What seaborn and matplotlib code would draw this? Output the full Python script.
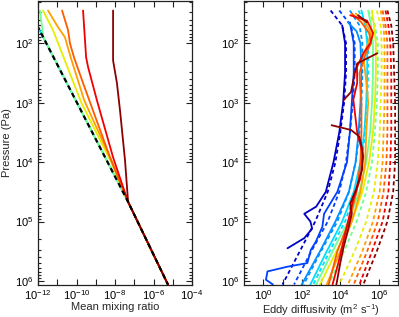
import numpy as np
import pandas as pd
import matplotlib
matplotlib.use("Agg")
import matplotlib.pyplot as plt
import seaborn as sns
from matplotlib.ticker import LogLocator, NullFormatter, NullLocator

# ---- data (values are powers of ten) ----

# left panel: mean mixing ratio vs pressure
p_black = [1.45, 1.73, 4.67, 6.06]
x_black = [-12.45, -12.0, -7.32, -5.25]

p_cyan = [1.45, 1.73, 4.67, 6.06]
x_cyan = [-12.0, -12.0, -7.32, -5.25]

p_green = [1.45, 1.9, 4.67, 6.06]
x_green = [-11.9, -11.72, -7.32, -5.25]

p_yellow = [1.45, 1.78, 3.0, 4.0, 4.67, 6.06]
x_yellow = [-11.74, -11.22, -9.75, -8.2, -7.32, -5.25]

p_orange = [1.45, 1.73, 1.9, 2.24, 2.96, 4.0, 4.67, 6.06]
x_orange = [-11.48, -10.96, -10.6, -10.3, -9.6, -8.15, -7.32, -5.25]

p_orangered = [1.45, 1.78, 2.0, 2.24, 2.67, 3.92, 4.67, 6.06]
x_orangered = [-10.75, -10.44, -10.34, -10.13, -9.66, -8.26, -7.32, -5.25]

p_red = [1.45, 2.24, 2.4, 2.96, 3.92, 4.67, 6.06]
x_red = [-9.66, -9.5, -9.4, -8.94, -8.1, -7.32, -5.25]

p_darkred = [1.45, 2.29, 2.67, 3.13, 3.97, 4.67, 6.06]
x_darkred = [-8.1, -8.1, -7.9, -7.74, -7.48, -7.32, -5.25]

# right panel: eddy diffusivity vs pressure
p_grid = [1.45, 1.7, 2.0, 2.5, 3.0, 3.5, 4.0, 4.5, 5.0, 5.5, 6.06]

kd_darkblue = [3.5, 4.1, 4.3, 4.3, 4.2, 4.0, 3.75, 3.35, 2.7, 1.9, 1.0]
kd_blue = [3.95, 4.55, 4.75, 4.75, 4.65, 4.5, 4.3, 3.95, 3.35, 2.5, 1.6]
kd_azure = [4.5, 5.0, 5.15, 5.15, 5.1, 5.0, 4.8, 4.45, 3.85, 3.0, 2.1]
kd_cyan = [4.95, 5.3, 5.45, 5.45, 5.4, 5.3, 5.1, 4.8, 4.25, 3.45, 2.6]
kd_green = [5.45, 5.8, 5.95, 5.95, 5.9, 5.8, 5.65, 5.35, 4.85, 4.2, 3.4]
kd_yellow = [5.9, 6.1, 6.15, 6.15, 6.1, 6.05, 5.95, 5.75, 5.35, 4.75, 3.95]
kd_orange = [6.1, 6.25, 6.3, 6.3, 6.3, 6.25, 6.2, 6.05, 5.7, 5.15, 4.4]
kd_orangered = [6.2, 6.35, 6.45, 6.45, 6.45, 6.45, 6.4, 6.25, 5.95, 5.4, 4.7]
kd_red = [6.35, 6.5, 6.6, 6.65, 6.65, 6.65, 6.6, 6.5, 6.2, 5.65, 5.0]
kd_darkred = [6.45, 6.65, 6.75, 6.8, 6.85, 6.85, 6.85, 6.75, 6.45, 5.9, 5.2]

ps_darkblue = [1.7, 2.0, 2.5, 3.0, 3.5, 4.0, 4.5, 4.75, 4.87, 5.0, 5.12, 5.28, 5.45]
ks_darkblue = [4.1, 4.25, 4.25, 4.15, 3.95, 3.65, 3.25, 2.75, 2.13, 2.45, 2.54, 2.13, 1.26]

ps_blue = [1.65, 2.0, 2.5, 3.0, 3.5, 4.0, 4.5, 4.87, 5.09, 5.34, 5.48, 5.7, 5.76, 5.84, 5.98, 6.06]
ks_blue = [4.5, 4.7, 4.7, 4.6, 4.5, 4.35, 3.85, 3.16, 3.07, 2.73, 2.47, 2.29, 1.26, 0.22, 0.14, 0.5]

ps_azure = [1.65, 1.8, 2.0, 2.5, 3.0, 3.5, 4.0, 4.5, 5.0, 5.5, 6.06]
ks_azure = [4.4, 4.85, 5.05, 5.1, 5.05, 4.95, 4.8, 4.45, 3.75, 2.95, 2.0]

ks_cyan = [5.1, 5.3, 5.4, 5.4, 5.35, 5.25, 5.05, 4.7, 4.1, 3.3, 2.45]
ks_green = [5.45, 5.6, 5.7, 5.7, 5.65, 5.55, 5.35, 5.0, 4.4, 3.6, 2.75]
ks_yellow = [5.65, 5.75, 5.85, 5.85, 5.8, 5.7, 5.5, 5.15, 4.6, 3.8, 2.95]

ps_orange = [1.5, 1.65, 1.83, 2.0, 2.2, 2.5, 2.8, 3.0, 3.5, 4.0, 4.5, 5.0, 5.5, 6.06]
ks_orange = [4.8, 5.3, 5.6, 5.45, 5.2, 5.3, 5.4, 5.45, 5.35, 5.3, 5.05, 4.6, 4.0, 3.3]
ks_orangered = [4.6, 5.1, 5.5, 5.6, 5.3, 5.0, 5.05, 5.1, 5.1, 5.05, 4.85, 4.45, 3.85, 3.4]

ps_red = [1.53, 1.62, 1.83, 2.0, 2.17, 2.4, 2.67, 2.95, 3.5, 3.9, 4.28, 4.62, 4.87, 5.28, 5.7, 6.06]
ks_red = [4.52, 5.39, 5.71, 5.56, 5.2, 4.87, 4.88, 4.68, 4.88, 5.2, 5.04, 4.68, 4.5, 4.2, 3.9, 3.6]

# dark red solid is broken into three pieces
ps_darkred = [[1.53, 1.65],
              [2.17, 2.34, 2.54, 2.82, 2.96],
              [3.38, 3.46, 3.57, 3.8, 4.12, 4.45, 4.7, 4.87, 5.12, 5.45, 5.7, 6.06]]
ks_darkred = [[4.93, 5.39],
              [5.92, 4.88, 4.73, 4.56, 4.17],
              [3.55, 4.56, 4.99, 5.16, 5.14, 4.83, 4.52, 4.6, 4.42, 4.16, 4.0, 3.8]]

# ---- colours ----
c_darkblue = "#0000c8"
c_blue = "#0040ff"
c_azure = "#0090ff"
c_cyan = "#00dcff"
c_green = "#70ff90"
c_yellow = "#e6ee00"
c_orange = "#ffa000"
c_orangered = "#ff5a00"
c_red = "#f00000"
c_darkred = "#8c0000"

sns.set_style("ticks")
plt.rcParams["font.family"] = ["Liberation Sans", "DejaVu Sans"]
plt.rcParams["mathtext.fontset"] = "custom"
plt.rcParams["mathtext.rm"] = "Liberation Sans"
plt.rcParams["mathtext.it"] = "Liberation Sans:italic"
plt.rcParams["mathtext.default"] = "regular"

DASH = (0, (2.2, 1.6))


def draw(ax, xexp, pexp, color, dashed=False, lw=1.3):
    d = pd.DataFrame({"x": 10.0 ** np.array(xexp), "p": 10.0 ** np.array(pexp)})
    sns.lineplot(data=d, x="x", y="p", sort=False, estimator=None, color=color,
                 lw=lw, ls=DASH if dashed else "-", ax=ax)


def style_axes(ax, xexps, xlabel):
    ax.set_xscale("log")
    ax.set_yscale("log")
    ax.set_xlim(10.0 ** xexps[0], 10.0 ** xexps[-1])
    ax.set_ylim(10 ** 6.06, 10 ** 1.29)
    ticks = [e for e in range(xexps[0], xexps[-1] + 1)]
    ax.set_xticks([10.0 ** e for e in ticks],
                  labels=[r"$10^{%d}$" % e if e % 2 == 0 else "" for e in ticks])
    ax.xaxis.set_minor_locator(NullLocator())
    ax.set_yticks([10.0 ** e for e in range(2, 7)],
                  labels=[r"$10^{%d}$" % e for e in range(2, 7)])
    ax.yaxis.set_minor_locator(LogLocator(base=10, subs=np.arange(2, 10)))
    ax.yaxis.set_minor_formatter(NullFormatter())
    ax.tick_params(which="both", direction="in", top=True, right=True,
                   labelsize=8, width=0.8, colors="#222222", labelcolor="black")
    ax.tick_params(which="major", length=4.5, pad=3)
    ax.tick_params(which="minor", length=2.5)
    for s in ax.spines.values():
        s.set_linewidth(0.9)
        s.set_color("#222222")
    ax.set_xlabel(xlabel, fontsize=8, labelpad=-0.5)
    ax.set_ylabel("")


fig = plt.figure(figsize=(3.99, 3.17), dpi=100)
ax1 = fig.add_axes([38 / 399, 32.5 / 317, 154 / 399, 283.5 / 317])
ax2 = fig.add_axes([244 / 399, 32.5 / 317, 154 / 399, 283.5 / 317])

# left panel
draw(ax1, x_cyan, p_cyan, c_cyan)
draw(ax1, x_green, p_green, c_green)
draw(ax1, x_yellow, p_yellow, c_yellow)
draw(ax1, x_orange, p_orange, c_orange)
draw(ax1, x_orangered, p_orangered, c_orangered)
draw(ax1, x_red, p_red, c_red)
draw(ax1, x_darkred, p_darkred, c_darkred)
draw(ax1, x_black, p_black, "black", dashed=True, lw=1.6)

# right panel: dashed lines
dashed_lines = [(kd_darkblue, c_darkblue), (kd_blue, c_blue), (kd_azure, c_azure),
                (kd_cyan, c_cyan), (kd_green, c_green), (kd_yellow, c_yellow),
                (kd_orange, c_orange), (kd_orangered, c_orangered),
                (kd_red, c_red), (kd_darkred, c_darkred)]
for k, c in dashed_lines:
    draw(ax2, k, p_grid, c, dashed=True)

# right panel: solid lines
draw(ax2, ks_darkblue, ps_darkblue, c_darkblue)
draw(ax2, ks_blue, ps_blue, c_blue)
draw(ax2, ks_azure, ps_azure, c_azure)
draw(ax2, ks_cyan, p_grid, c_cyan)
draw(ax2, ks_green, p_grid, c_green)
draw(ax2, ks_yellow, p_grid, c_yellow)
draw(ax2, ks_orange, ps_orange, c_orange)
draw(ax2, ks_orangered, ps_orange, c_orangered)
draw(ax2, ks_red, ps_red, c_red)
for pk, kk in zip(ps_darkred, ks_darkred):
    draw(ax2, kk, pk, c_darkred)

style_axes(ax1, [-12, -4], "Mean mixing ratio")
style_axes(ax2, [-1, 7], r"Eddy diffusivity (m$^2$ s$^{-1}$)")
ax2.set_xticks([10.0 ** e for e in range(0, 7)],
               labels=[r"$10^{%d}$" % e if e % 2 == 0 else "" for e in range(0, 7)])
ax1.set_ylabel("Pressure (Pa)", fontsize=8, labelpad=2)

fig.savefig("out.png", dpi=100)
